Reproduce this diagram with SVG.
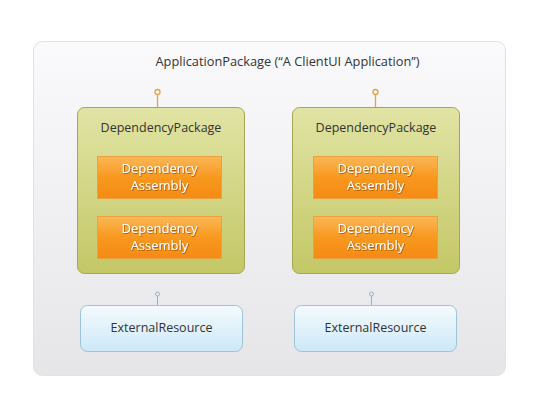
<svg xmlns="http://www.w3.org/2000/svg" width="550" height="407" viewBox="0 0 550 407">
<style>
text{font-family:"Open Sans","Liberation Sans",sans-serif;}
.t{font-size:12.5px;fill:#333;text-anchor:middle;}
.ttl{font-size:12.8px;}
.w{font-size:13px;fill:#fff;text-anchor:middle;filter:url(#sh);}
.pkg{fill:url(#gG);stroke:#a3a84e;stroke-width:1;}
.asm{fill:url(#gO);stroke:#e8a240;stroke-width:1;}
.ext{fill:url(#gB);stroke:#9cc3d8;stroke-width:1;}
.po{stroke:#e8a048;stroke-width:1.3;fill:none;}
.pb{stroke:#8fb4c8;stroke-width:1;fill:none;}
</style>
<defs>
<linearGradient id="gBg" x1="0" y1="0" x2="0" y2="1"><stop offset="0" stop-color="#fafafc"/><stop offset="1" stop-color="#e6e6e8"/></linearGradient>
<linearGradient id="gG" x1="0" y1="0" x2="0" y2="1"><stop offset="0" stop-color="#e1e4a4"/><stop offset="1" stop-color="#c4c766"/></linearGradient>
<linearGradient id="gO" x1="0" y1="0" x2="0" y2="1"><stop offset="0" stop-color="#fbb757"/><stop offset="0.5" stop-color="#f8981e"/><stop offset="1" stop-color="#f68a14"/></linearGradient>
<linearGradient id="gB" x1="0" y1="0" x2="0" y2="1"><stop offset="0" stop-color="#f4fafe"/><stop offset="1" stop-color="#cde8f7"/></linearGradient>
<filter id="sh" x="-10%" y="-20%" width="120%" height="140%"><feDropShadow dx="0.8" dy="0.8" stdDeviation="0.6" flood-color="#8a4a00" flood-opacity="0.8"/></filter>
</defs>
<g id="app">
<rect x="33.5" y="41.5" width="472" height="334" rx="9" fill="url(#gBg)" stroke="#e2e2e6"/>
<text class="t ttl" x="287.5" y="65.5">ApplicationPackage (“A ClientUI Application”)</text>
</g>
<g id="connectors">
<line class="po" x1="157.5" y1="95" x2="157.5" y2="107"/>
<circle class="po" cx="157.5" cy="92" r="2.5" fill="#fbd6a4"/>
<line class="po" x1="375.5" y1="95" x2="375.5" y2="107"/>
<circle class="po" cx="375.5" cy="92" r="2.5" fill="#fbd6a4"/>
<line class="pb" x1="157.5" y1="296" x2="157.5" y2="305"/>
<circle class="pb" cx="157.5" cy="294" r="2" fill="#fff"/>
<line class="pb" x1="371.5" y1="296" x2="371.5" y2="305"/>
<circle class="pb" cx="371.5" cy="294" r="2" fill="#fff"/>
</g>
<g id="pkg1">
<rect class="pkg" x="77.5" y="107.5" width="167" height="166" rx="7"/>
<text class="t" x="161" y="131.5">DependencyPackage</text>
</g>
<g id="asm1a">
<rect class="asm" x="97.5" y="156.5" width="124" height="42"/>
<text class="w" x="159.5" y="173">Dependency</text>
<text class="w" x="159.5" y="190">Assembly</text>
</g>
<g id="asm1b">
<rect class="asm" x="97.5" y="216.5" width="124" height="42"/>
<text class="w" x="159.5" y="233">Dependency</text>
<text class="w" x="159.5" y="250">Assembly</text>
</g>
<g id="pkg2">
<rect class="pkg" x="292.5" y="107.5" width="167" height="166" rx="7"/>
<text class="t" x="376" y="131.5">DependencyPackage</text>
</g>
<g id="asm2a">
<rect class="asm" x="313.5" y="156.5" width="124" height="42"/>
<text class="w" x="375.5" y="173">Dependency</text>
<text class="w" x="375.5" y="190">Assembly</text>
</g>
<g id="asm2b">
<rect class="asm" x="313.5" y="216.5" width="124" height="42"/>
<text class="w" x="375.5" y="233">Dependency</text>
<text class="w" x="375.5" y="250">Assembly</text>
</g>
<g id="ext1">
<rect class="ext" x="80.5" y="305.5" width="162" height="46" rx="7"/>
<text class="t" x="161.5" y="332">ExternalResource</text>
</g>
<g id="ext2">
<rect class="ext" x="294.5" y="305.5" width="162" height="46" rx="7"/>
<text class="t" x="375.5" y="332">ExternalResource</text>
</g>
</svg>
